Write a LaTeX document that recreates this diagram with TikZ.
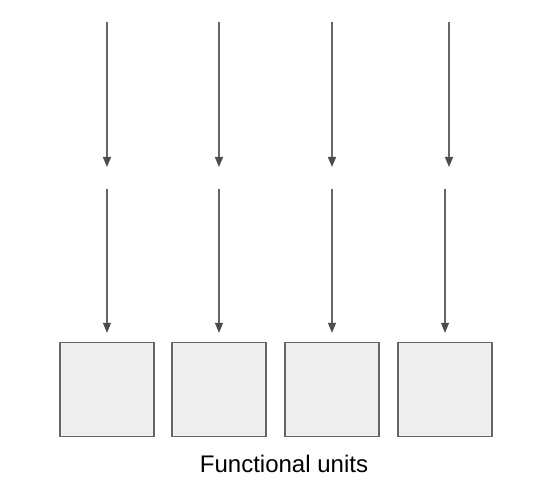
\documentclass[tikz,border=0pt]{standalone}
\usepackage{fontspec}
\setmainfont{Liberation Sans}
\usetikzlibrary{arrows.meta, positioning}
\definecolor{linegray}{HTML}{666666}
\definecolor{tipgray}{HTML}{4D4D4D}
\definecolor{boxgray}{HTML}{EEEEEE}
\tikzset{
	unitbox/.style={draw=linegray, fill=boxgray, line width=1.3pt, minimum width=94pt, minimum height=94pt, inner sep=0pt}
}
\tikzset{
	feedarrow/.style={draw=linegray, line width=1.3pt, -{Triangle[length=10pt, width=8pt, fill=tipgray, color=tipgray]}}
}
\tikzset{
	captiontext/.style={font=\fontsize{24}{27}\selectfont}
}

\begin{document}
\begin{tikzpicture}[x=1pt, y=-1pt]

			\useasboundingbox (0,0) rectangle (533,492);

			\begin{scope}
				\node[unitbox] (u1) at (107,389.5) {};
				\node[unitbox] (u2) at (219,389.5) {};
				\node[unitbox] (u3) at (332,389.5) {};
				\node[unitbox] (u4) at (445,389.5) {};

				\node[captiontext] (cap) at (284,464) {Functional units};
			\end{scope}

			\begin{scope}
				\coordinate (tA) at (107,22);
				\coordinate (tB) at (219,22);
				\coordinate (tC) at (332,22);
				\coordinate (tD) at (449,22);

				\coordinate (hA) at (107,167);
				\coordinate (hB) at (219,167);
				\coordinate (hC) at (332,167);
				\coordinate (hD) at (449,167);

				\coordinate (mA) at (107,189);
				\coordinate (mB) at (219,189);
				\coordinate (mC) at (332,189);
				\coordinate (mD) at (445,189);

				\draw[feedarrow] (tA) -- (hA);
				\draw[feedarrow] (tB) -- (hB);
				\draw[feedarrow] (tC) -- (hC);
				\draw[feedarrow] (tD) -- (hD);

				\draw[feedarrow, shorten >=9pt] (mA) -- (u1.north);
				\draw[feedarrow, shorten >=9pt] (mB) -- (u2.north);
				\draw[feedarrow, shorten >=9pt] (mC) -- (u3.north);
				\draw[feedarrow, shorten >=9pt] (mD) -- (u4.north);
			\end{scope}

		\end{tikzpicture}
\end{document}
